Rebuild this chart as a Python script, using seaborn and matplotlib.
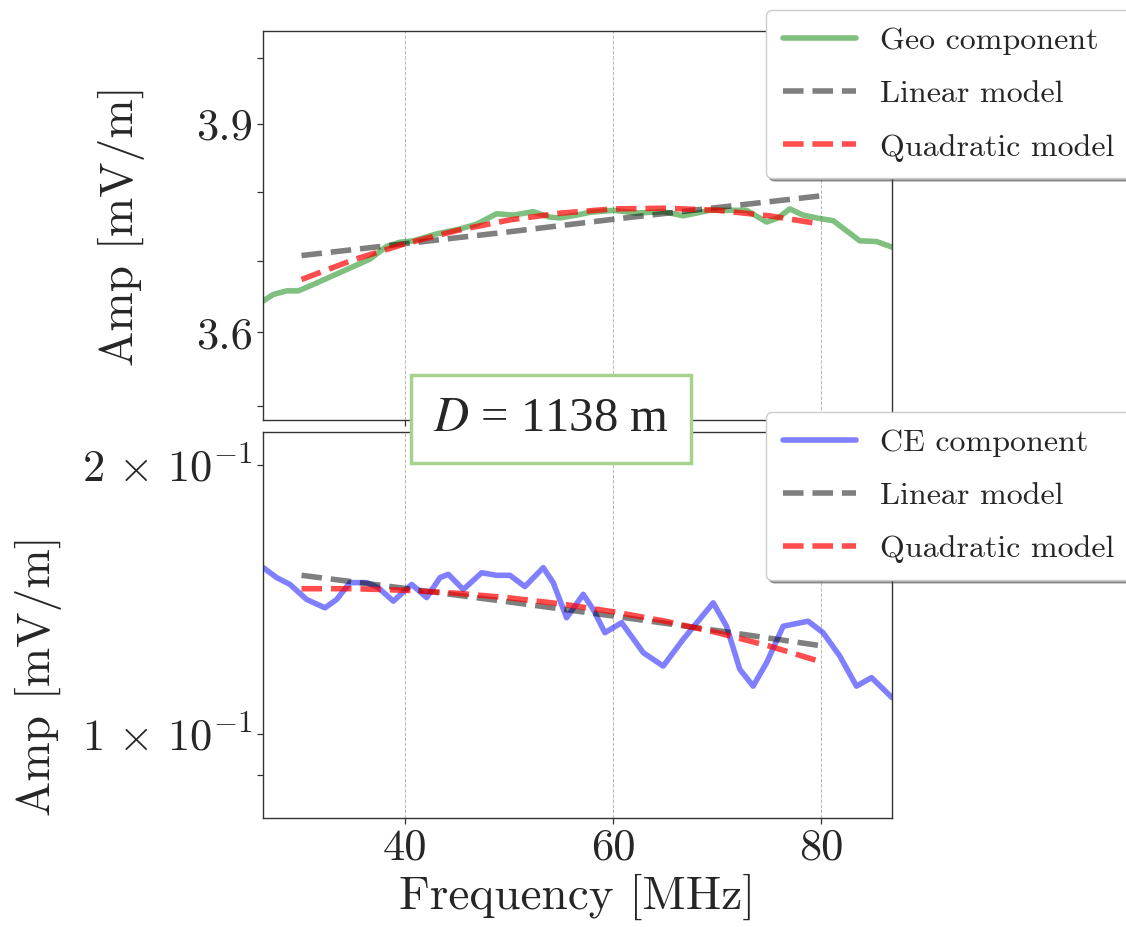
import matplotlib
matplotlib.use("Agg")
import matplotlib.pyplot as plt
from matplotlib.ticker import FixedLocator, FixedFormatter, NullFormatter
import seaborn as sns

# ---- Geo component (top panel) ----
geo_freq = [26.33, 27.29, 28.58, 29.69, 31.13, 34.02, 36.59, 38.19, 39.47, 40.75,
            43.00, 45.24, 46.85, 48.77, 50.37, 52.29, 53.89, 54.86, 56.46, 57.74,
            59.98, 62.23, 64.79, 66.71, 69.28, 72.81, 74.73, 75.85, 76.97, 78.25,
            79.86, 81.14, 83.70, 85.31, 86.80]
geo_amp = [3.644, 3.653, 3.658, 3.658, 3.667, 3.686, 3.703, 3.721, 3.727, 3.729,
           3.739, 3.746, 3.753, 3.768, 3.766, 3.771, 3.763, 3.762, 3.766, 3.770,
           3.773, 3.769, 3.771, 3.765, 3.773, 3.773, 3.756, 3.762, 3.775, 3.766,
           3.761, 3.758, 3.729, 3.728, 3.720]

geo_lin_freq = [30, 40, 50, 60, 70, 80]
geo_lin_amp = [3.708, 3.725, 3.742, 3.760, 3.777, 3.794]

geo_quad_freq = [30, 35, 40, 45, 50, 55, 60, 65, 70, 75, 80]
geo_quad_amp = [3.674, 3.702, 3.725, 3.744, 3.759, 3.769, 3.775, 3.776, 3.773, 3.765, 3.753]

# ---- CE component (bottom panel) ----
ce_freq = [26.33, 27.62, 28.89, 30.50, 32.26, 33.38, 34.66, 36.27, 37.38, 38.83,
           40.60, 42.04, 43.32, 44.12, 45.56, 47.33, 48.77, 50.05, 51.49, 53.25,
           54.21, 55.50, 57.10, 58.06, 59.18, 60.79, 62.87, 64.79, 66.71, 69.60,
           70.88, 72.16, 73.44, 74.73, 76.33, 78.73, 80.17, 81.78, 83.38, 84.83,
           86.80]
ce_amp = [0.1535, 0.1496, 0.1470, 0.1414, 0.1384, 0.1414, 0.1477, 0.1477, 0.1458, 0.1408,
          0.1470, 0.1421, 0.1496, 0.1509, 0.1451, 0.1515, 0.1505, 0.1505, 0.1462, 0.1535,
          0.1477, 0.1349, 0.1433, 0.1378, 0.1298, 0.1332, 0.1233, 0.1191, 0.1276, 0.1402,
          0.1320, 0.1181, 0.1131, 0.1201, 0.1320, 0.1337, 0.1298, 0.1222, 0.1131, 0.1156,
          0.1098]

ce_lin_freq = [30, 40, 50, 60, 70, 80]
ce_lin_amp = [0.1505, 0.1455, 0.1405, 0.1355, 0.1305, 0.1255]

ce_quad_freq = [30, 35, 40, 45, 50, 55, 60, 65, 70, 75, 80]
ce_quad_amp = [0.1454, 0.1454, 0.1448, 0.1437, 0.1420, 0.1398, 0.1370, 0.1337, 0.1298, 0.1254, 0.1204]

freq_ticks = [40, 60, 80]
geo_ticks = [3.6, 3.9]
geo_tick_labels = ["3.6", "3.9"]
geo_minor = [3.5, 3.7, 3.8, 4.0]
ce_ticks = [0.1, 0.2]
ce_tick_labels = [r"$1\,\times\,10^{-1}$", r"$2\,\times\,10^{-1}$"]
ce_minor = [0.09]

sns.set_style("white")
plt.rcParams["font.family"] = ["serif"]
plt.rcParams["font.serif"] = ["cmr10", "DejaVu Serif"]
plt.rcParams["mathtext.fontset"] = "cm"
plt.rcParams["axes.formatter.use_mathtext"] = True
plt.rcParams["axes.unicode_minus"] = False

fig = plt.figure(figsize=(11.26, 9.27), dpi=100)
ax1 = fig.add_axes([0.2336, 0.5469, 0.5586, 0.4197])
ax2 = fig.add_axes([0.2336, 0.1176, 0.5586, 0.4164], sharex=ax1)

LW = 4


def draw_panel(ax, f, a, lf, la, qf, qa, color, name):
    sns.lineplot(x=f, y=a, ax=ax, color=color, alpha=0.5, lw=LW, label=name,
                 solid_joinstyle="round", solid_capstyle="round")
    sns.lineplot(x=lf, y=la, ax=ax, color="k", alpha=0.5, lw=LW, ls="--",
                 label="Linear model")
    sns.lineplot(x=qf, y=qa, ax=ax, color="red", alpha=0.7, lw=LW, ls="--",
                 label="Quadratic model")
    ax.set_yscale("log")
    ax.grid(axis="x", which="major", ls="--", lw=0.7, color="0.72")
    for sp in ax.spines.values():
        sp.set_color("0.2")
        sp.set_linewidth(1.0)
    ax.tick_params(axis="both", which="both", direction="out", length=4,
                   width=0.9, color="0.2", labelsize=32, left=True, bottom=True)


draw_panel(ax1, geo_freq, geo_amp, geo_lin_freq, geo_lin_amp,
           geo_quad_freq, geo_quad_amp, "green", "Geo component")
draw_panel(ax2, ce_freq, ce_amp, ce_lin_freq, ce_lin_amp,
           ce_quad_freq, ce_quad_amp, "blue", "CE component")

ax1.set_xlim(26.3, 86.8)
ax1.set_ylim(3.481, 4.042)
ax2.set_ylim(0.0805, 0.2178)

ax2.xaxis.set_major_locator(FixedLocator(freq_ticks))
ax2.xaxis.set_major_formatter(FixedFormatter([str(t) for t in freq_ticks]))
ax1.tick_params(axis="x", labelbottom=False)

ax1.yaxis.set_major_locator(FixedLocator(geo_ticks))
ax1.yaxis.set_major_formatter(FixedFormatter(geo_tick_labels))
ax1.yaxis.set_minor_locator(FixedLocator(geo_minor))
ax1.yaxis.set_minor_formatter(NullFormatter())

ax2.yaxis.set_major_locator(FixedLocator(ce_ticks))
ax2.yaxis.set_major_formatter(FixedFormatter(ce_tick_labels))
ax2.yaxis.set_minor_locator(FixedLocator(ce_minor))
ax2.yaxis.set_minor_formatter(NullFormatter())

ax1.set_xlabel("")
ax1.set_ylabel("Amp [mV/m]", fontsize=34)
ax1.yaxis.set_label_coords(-0.1876, 0.5)
ax2.set_ylabel("Amp [mV/m]", fontsize=34)
ax2.yaxis.set_label_coords(-0.3196, 0.37)
ax2.set_xlabel("Frequency [MHz]", fontsize=34)

leg_kw = dict(loc="upper left", bbox_transform=fig.transFigure, borderaxespad=0,
              fontsize=23, frameon=True, fancybox=True, shadow=True,
              framealpha=1, handlelength=2.3, handletextpad=0.75,
              labelspacing=0.78, borderpad=0.52, edgecolor="0.8")
ax1.legend(bbox_to_anchor=(0.6803, 0.9892), **leg_kw)
ax2.legend(bbox_to_anchor=(0.6803, 0.5556), **leg_kw)

fig.text(551 / 1126, 1 - 419 / 927, "$D$ = 1138 m", fontsize=35,
         family="Liberation Serif", math_fontfamily="stix",
         ha="center", va="center", zorder=10,
         bbox=dict(boxstyle="square,pad=0.45", fc="white", ec="#a9d18e", lw=2.5))

fig.savefig("out.png", dpi=100, facecolor="white")
